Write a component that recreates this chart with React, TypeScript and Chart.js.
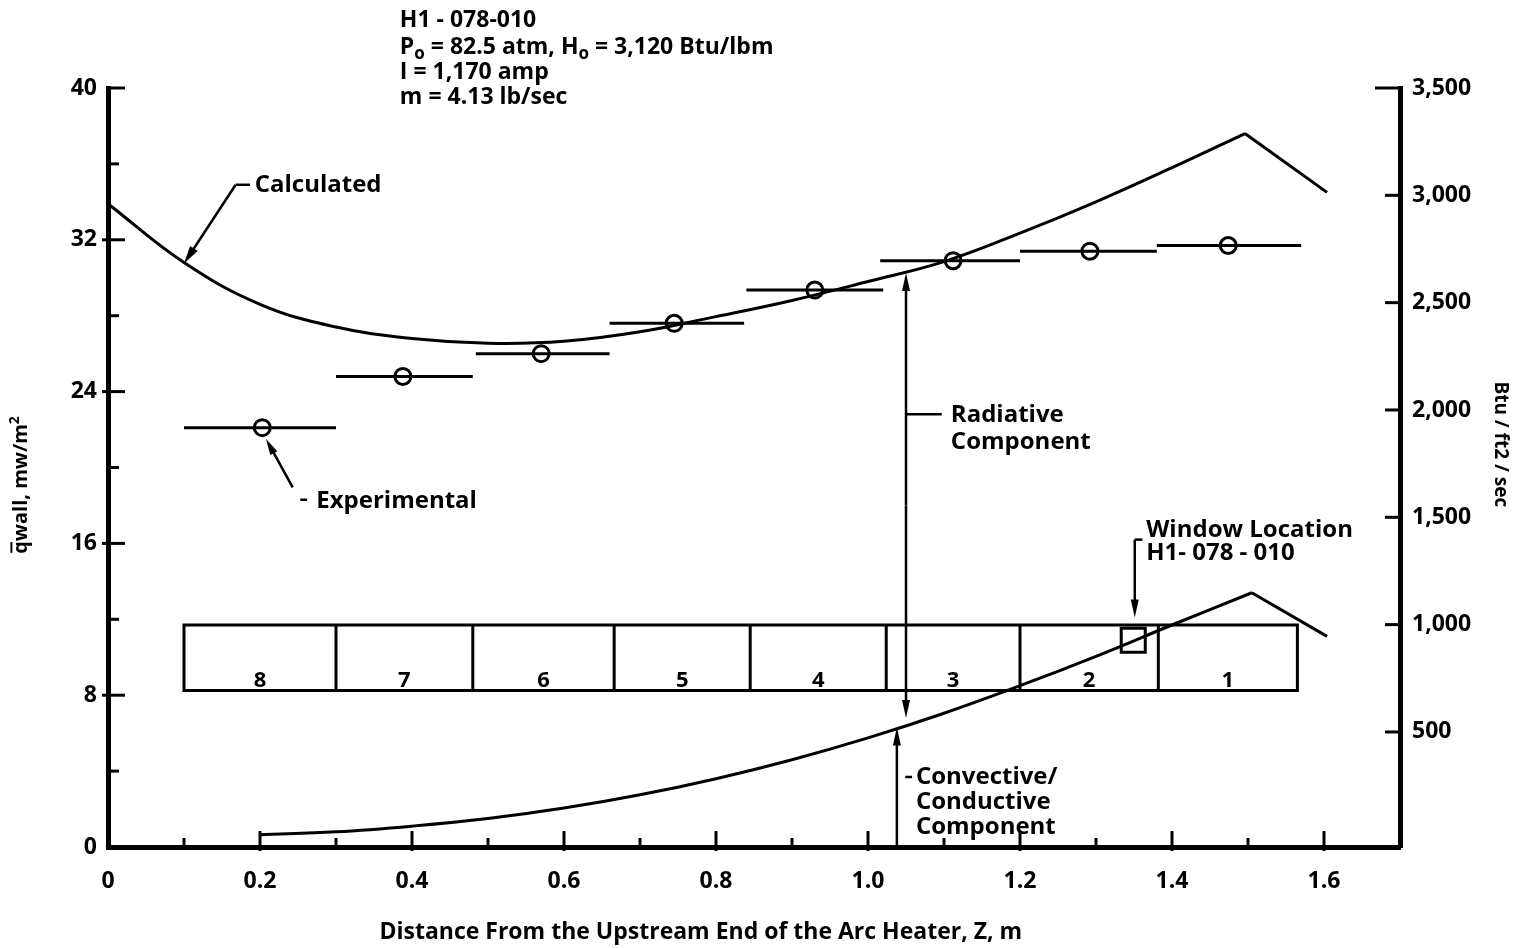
import React, { useEffect, useRef } from "react";
import { Chart, registerables } from "chart.js";

Chart.register(...registerables);

const FONT = "'Open Sans', 'DejaVu Sans', sans-serif";

// Calculated total wall heat flux (mw/m2) vs Z (m)
const calcX = [0, 0.1, 0.2, 0.3, 0.4, 0.5, 0.6, 0.7, 0.8, 0.9, 1.0, 1.1, 1.2, 1.3, 1.4, 1.496];
const calcY = [33.9, 30.8, 28.6, 27.4, 26.8, 26.55, 26.65, 27.15, 27.95, 28.8, 29.8, 30.85, 32.35, 34.0, 35.8, 37.6];
const calcTailX = [1.496, 1.604];
const calcTailY = [37.6, 34.5];

// Convective / conductive component
const convX = [0.2, 0.3, 0.4, 0.5, 0.6, 0.7, 0.8, 0.9, 1.0, 1.1, 1.2, 1.3, 1.4, 1.505];
const convY = [0.65, 0.8, 1.1, 1.5, 2.05, 2.75, 3.6, 4.6, 5.75, 7.05, 8.5, 10.05, 11.7, 13.4];
const convTailX = [1.505, 1.604];
const convTailY = [13.4, 11.1];

// Experimental points and segment extents
const expX = [0.203, 0.388, 0.57, 0.745, 0.93, 1.112, 1.292, 1.474];
const expY = [22.1, 24.8, 26.0, 27.6, 29.35, 30.9, 31.4, 31.7];
const expStart = [0.1, 0.3, 0.484, 0.66, 0.84, 1.016, 1.2, 1.38];
const expEnd = [0.3, 0.48, 0.66, 0.837, 1.02, 1.2, 1.38, 1.57];

// Heater segments
const segBounds = [0.1, 0.3, 0.48, 0.666, 0.845, 1.024, 1.2, 1.382, 1.565];
const segLabels = ["8", "7", "6", "5", "4", "3", "2", "1"];
const segTop = 11.7;
const segBottom = 8.25;

// Window location
const windowX = [1.349];
const windowY = [10.9];

// Axis ticks
const xTicks = [0, 0.2, 0.4, 0.6, 0.8, 1.0, 1.2, 1.4, 1.6];
const yTicks = [0, 8, 16, 24, 32, 40];
const y2Ticks = [500, 1000, 1500, 2000, 2500, 3000, 3500];

const headerLines = [
  [{ t: "H1 - 078-010" }],
  [{ t: "P" }, { t: "o", sub: true }, { t: " = 82.5 atm, H" }, { t: "o", sub: true }, { t: " = 3,120 Btu/lbm" }],
  [{ t: "I = 1,170 amp" }],
  [{ t: "m = 4.13 lb/sec" }],
];

type Seg = { t: string; sub?: boolean; sup?: boolean; bar?: boolean };

function drawRich(ctx: CanvasRenderingContext2D, segs: Seg[], x: number, y: number, size: number, align: "left" | "center") {
  const widths: number[] = [];
  const sizes: number[] = [];
  let total = 0;
  for (const s of segs) {
    const sz = s.sub || s.sup ? Math.round(size * 0.72) : size;
    ctx.font = `bold ${sz}px ${FONT}`;
    const w = ctx.measureText(s.t).width;
    widths.push(w);
    sizes.push(sz);
    total += w;
  }
  let cx = align === "center" ? x - total / 2 : x;
  ctx.textAlign = "left";
  ctx.textBaseline = "alphabetic";
  segs.forEach((s, i) => {
    const sz = sizes[i];
    ctx.font = `bold ${sz}px ${FONT}`;
    const dy = s.sub ? size * 0.22 : s.sup ? -size * 0.38 : 0;
    ctx.fillText(s.t, cx, y + dy);
    if (s.bar) {
      ctx.beginPath();
      ctx.lineWidth = 2;
      ctx.moveTo(cx + 1, y - size * 0.78);
      ctx.lineTo(cx + widths[i] - 1, y - size * 0.78);
      ctx.stroke();
    }
    cx += widths[i];
  });
}

function arrow(ctx: CanvasRenderingContext2D, x1: number, y1: number, x2: number, y2: number, len = 16, half = 4.5) {
  const a = Math.atan2(y2 - y1, x2 - x1);
  ctx.beginPath();
  ctx.moveTo(x1, y1);
  ctx.lineTo(x2 - Math.cos(a) * len * 0.6, y2 - Math.sin(a) * len * 0.6);
  ctx.stroke();
  ctx.beginPath();
  ctx.moveTo(x2, y2);
  ctx.lineTo(x2 - Math.cos(a) * len - Math.sin(a) * half, y2 - Math.sin(a) * len + Math.cos(a) * half);
  ctx.lineTo(x2 - Math.cos(a) * len + Math.sin(a) * half, y2 - Math.sin(a) * len - Math.cos(a) * half);
  ctx.closePath();
  ctx.fill();
}

const annotationPlugin = {
  id: "annotations",
  afterDraw(chart: any) {
    const ctx: CanvasRenderingContext2D = chart.ctx;
    const xs = chart.scales.x;
    const ys = chart.scales.y;
    const y2s = chart.scales.y2;
    const X = (v: number) => xs.getPixelForValue(v);
    const Y = (v: number) => ys.getPixelForValue(v);
    const { left, right, bottom } = chart.chartArea;
    ctx.save();
    ctx.strokeStyle = "#000";
    ctx.fillStyle = "#000";
    ctx.lineCap = "butt";

    // axis tick marks (inward)
    ctx.lineWidth = 3;
    yTicks.forEach((v, i) => {
      if (v !== 0) {
        ctx.beginPath();
        ctx.moveTo(v === 40 ? left : left - 6, Y(v));
        ctx.lineTo(left + 17, Y(v));
        ctx.stroke();
      }
      if (i < yTicks.length - 1) {
        const m = (v + yTicks[i + 1]) / 2;
        ctx.beginPath();
        ctx.moveTo(left, Y(m));
        ctx.lineTo(left + 11, Y(m));
        ctx.stroke();
      }
    });
    y2Ticks.forEach((v) => {
      const py = y2s.getPixelForValue(v);
      ctx.beginPath();
      ctx.moveTo(right + 2, py);
      ctx.lineTo(right - (v === 3500 ? 25 : 15), py);
      ctx.stroke();
    });
    xTicks.forEach((v, i) => {
      if (v !== 0) {
        ctx.beginPath();
        ctx.moveTo(X(v), bottom + 4);
        ctx.lineTo(X(v), bottom - 16);
        ctx.stroke();
      }
      if (i < xTicks.length - 1) {
        const m = (v + xTicks[i + 1]) / 2;
        ctx.beginPath();
        ctx.moveTo(X(m), bottom);
        ctx.lineTo(X(m), bottom - 9);
        ctx.stroke();
      }
    });

    // heater segment boxes
    ctx.lineWidth = 3;
    const bt = Y(segTop);
    const bb = Y(segBottom);
    ctx.beginPath();
    ctx.rect(X(segBounds[0]), bt, X(segBounds[segBounds.length - 1]) - X(segBounds[0]), bb - bt);
    ctx.stroke();
    for (let i = 1; i < segBounds.length - 1; i++) {
      ctx.beginPath();
      ctx.moveTo(X(segBounds[i]), bt);
      ctx.lineTo(X(segBounds[i]), bb);
      ctx.stroke();
    }
    ctx.font = `bold 22px ${FONT}`;
    ctx.textAlign = "center";
    ctx.textBaseline = "alphabetic";
    segLabels.forEach((lab, i) => {
      ctx.fillText(lab, (X(segBounds[i]) + X(segBounds[i + 1])) / 2, bb - 3);
    });

    // annotations
    ctx.lineWidth = 2.5;
    // Calculated
    ctx.beginPath();
    ctx.moveTo(X(0.168), Y(34.9));
    ctx.lineTo(X(0.187), Y(34.9));
    ctx.stroke();
    arrow(ctx, X(0.168), Y(34.9), X(0.1), Y(30.75), 18, 4.5);
    // Experimental
    arrow(ctx, X(0.243), Y(18.95), X(0.208), Y(21.5), 16, 4);
    ctx.beginPath();
    ctx.moveTo(X(0.253), Y(18.3));
    ctx.lineTo(X(0.262), Y(18.3));
    ctx.stroke();
    // Radiative component double arrow
    const rx = X(1.05);
    arrow(ctx, rx, Y(18), rx, Y(30.25), 18, 4);
    arrow(ctx, rx, Y(18), rx, Y(6.8), 18, 4);
    ctx.beginPath();
    ctx.moveTo(rx, Y(22.8));
    ctx.lineTo(X(1.097), Y(22.8));
    ctx.stroke();
    // Convective arrow
    arrow(ctx, X(1.038), Y(0), X(1.038), Y(6.3), 18, 4);
    ctx.beginPath();
    ctx.moveTo(X(1.049), Y(3.69));
    ctx.lineTo(X(1.058), Y(3.69));
    ctx.stroke();
    // Window arrow
    arrow(ctx, X(1.351), Y(16.2), X(1.351), Y(12.1), 18, 4);
    ctx.beginPath();
    ctx.moveTo(X(1.351), Y(16.2));
    ctx.lineTo(X(1.361), Y(16.2));
    ctx.stroke();

    ctx.textAlign = "left";
    ctx.textBaseline = "middle";
    ctx.font = `bold 24px ${FONT}`;
    ctx.fillText("Calculated", X(0.193), Y(34.9));
    ctx.fillText("Experimental", X(0.274), Y(18.2));
    ctx.fillText("Radiative", X(1.109), Y(22.75));
    ctx.fillText("Component", X(1.109), Y(21.35));
    ctx.fillText("Convective/", X(1.063), Y(3.69));
    ctx.fillText("Conductive", X(1.063), Y(2.37));
    ctx.fillText("Component", X(1.063), Y(1.05));
    ctx.fillText("Window Location", X(1.366), Y(16.7));
    ctx.fillText("H1- 078 - 010", X(1.366), Y(15.5));

    // header block
    const headerYs = [43.65, 42.2, 40.9, 39.6];
    headerLines.forEach((line, i) => {
      drawRich(ctx, line as Seg[], X(0.384), Y(headerYs[i]) + 8, 23, "left");
    });

    // axis titles
    ctx.font = `bold 23px ${FONT}`;
    ctx.textAlign = "center";
    ctx.textBaseline = "middle";
    ctx.fillText("Distance From the Upstream End of the Arc Heater, Z, m", X(0.78), bottom + 85);

    ctx.save();
    ctx.translate(27, (Y(20) + Y(19)) / 2 + 8);
    ctx.rotate(-Math.PI / 2);
    drawRich(
      ctx,
      [{ t: "q", bar: true }, { t: "wall" }, { t: ", mw/m" }, { t: "2", sup: true }],
      0,
      0,
      20,
      "center"
    );
    ctx.restore();

    ctx.save();
    ctx.translate(right + 100, y2s.getPixelForValue(1840));
    ctx.rotate(Math.PI / 2);
    ctx.font = `bold 19px ${FONT}`;
    ctx.textAlign = "center";
    ctx.textBaseline = "middle";
    ctx.fillText("Btu / ft2 / sec", 0, 0);
    ctx.restore();

    ctx.restore();
  },
};

export default function App() {
  const ref = useRef<HTMLCanvasElement | null>(null);
  useEffect(() => {
    if (!ref.current) return;
    const pts = (xa: number[], ya: number[]) => xa.map((x, i) => ({ x, y: ya[i] }));
    const barData: any[] = [];
    expY.forEach((y, i) => {
      barData.push({ x: expStart[i], y });
      barData.push({ x: expEnd[i], y });
      barData.push({ x: expEnd[i], y: null });
    });
    const lineBase = {
      borderColor: "#000",
      borderWidth: 3,
      pointRadius: 0,
      fill: false,
      yAxisID: "y",
    };
    const tickFont = { family: FONT, size: 23, weight: "bold" as const };
    const chart = new Chart(ref.current, {
      type: "line",
      data: {
        datasets: [
          { ...lineBase, label: "Calculated", data: pts(calcX, calcY), tension: 0.4 },
          { ...lineBase, label: "Calculated tail", data: pts(calcTailX, calcTailY), tension: 0 },
          { ...lineBase, label: "Convective", data: pts(convX, convY), tension: 0.4 },
          { ...lineBase, label: "Convective tail", data: pts(convTailX, convTailY), tension: 0 },
          { ...lineBase, label: "Experimental range", data: barData, spanGaps: false, tension: 0 },
          {
            label: "Experimental",
            data: pts(expX, expY),
            showLine: false,
            pointRadius: 8,
            pointBorderWidth: 3,
            pointBorderColor: "#000",
            pointBackgroundColor: "rgba(0,0,0,0)",
            borderColor: "#000",
            yAxisID: "y",
          },
          {
            label: "Window",
            data: pts(windowX, windowY),
            showLine: false,
            pointStyle: "rect",
            pointRadius: 17,
            pointBorderWidth: 3,
            pointBorderColor: "#000",
            pointBackgroundColor: "rgba(0,0,0,0)",
            borderColor: "#000",
            yAxisID: "y",
          },
        ],
      },
      options: {
        animation: false,
        responsive: false,
        maintainAspectRatio: false,
        layout: { padding: { top: 88, left: 0, right: 0, bottom: 0 } },
        plugins: { legend: { display: false }, tooltip: { enabled: false }, title: { display: false } },
        scales: {
          x: {
            type: "linear",
            position: "bottom",
            min: 0,
            max: 1.7,
            afterBuildTicks: (s: any) => {
              s.ticks = xTicks.map((v) => ({ value: v }));
            },
            afterFit: (s: any) => {
              s.height = 101;
            },
            ticks: {
              autoSkip: false,
              maxRotation: 0,
              padding: 21,
              color: "#000",
              font: tickFont,
              callback: (v: any) => (Number(v) === 0 ? "0" : Number(v).toFixed(1)),
            },
            grid: { display: false, drawTicks: false },
            border: { display: true, color: "#000", width: 5 },
          },
          y: {
            type: "linear",
            position: "left",
            min: 0,
            max: 40,
            afterBuildTicks: (s: any) => {
              s.ticks = yTicks.map((v) => ({ value: v }));
            },
            afterFit: (s: any) => {
              s.width = 108;
            },
            ticks: { padding: 11, color: "#000", font: tickFont },
            grid: { display: false, drawTicks: false },
            border: { display: true, color: "#000", width: 5 },
          },
          y2: {
            type: "linear",
            position: "right",
            min: -36,
            max: 3500,
            afterBuildTicks: (s: any) => {
              s.ticks = y2Ticks.map((v) => ({ value: v }));
            },
            afterFit: (s: any) => {
              s.width = 120;
            },
            ticks: {
              padding: 12,
              color: "#000",
              font: tickFont,
              callback: (v: any) => Number(v).toLocaleString("en-US"),
            },
            grid: { display: false, drawTicks: false },
            border: { display: true, color: "#000", width: 5 },
          },
        },
      },
      plugins: [annotationPlugin],
    } as any);
    return () => chart.destroy();
  }, []);
  return (
    <div style={{ position: "absolute", left: 0, top: 0, width: 1520, height: 948, background: "#fff" }}>
      <canvas ref={ref} width={1520} height={948} style={{ display: "block", width: 1520, height: 948 }} />
    </div>
  );
}
